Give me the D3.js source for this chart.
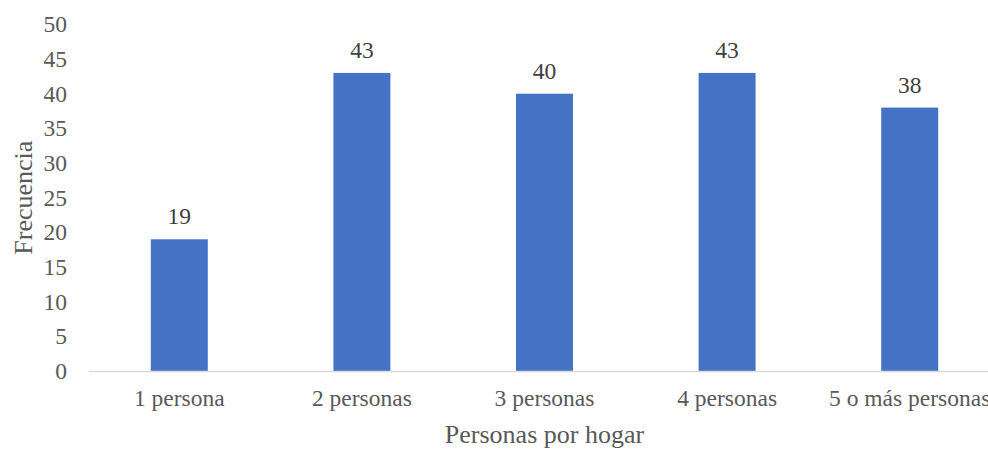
<!DOCTYPE html>
<html>
<head>
<meta charset="utf-8">
<script src="https://d3js.org/d3.v7.min.js"></script>
<style>
  body { margin: 0; background: #fff; }
  text { font-family: "Liberation Serif", "Times New Roman", serif; }
</style>
</head>
<body>
<script>
// chart data
var categories = ["1 persona", "2 personas", "3 personas", "4 personas", "5 o más personas"];
var values = [19, 43, 40, 43, 38];
var yTicks = [0, 5, 10, 15, 20, 25, 30, 35, 40, 45, 50];

// layout (plot area)
var w = 988, h = 449;
var plotLeft = 88, plotRight = 1001, plotTop = 24.4, plotBottom = 371;

var svg = d3.select("body").append("svg")
  .attr("width", w)
  .attr("height", h);

var x = d3.scaleBand()
  .domain(categories)
  .range([plotLeft, plotRight])
  .paddingInner(0.688)
  .paddingOuter(0.344);

var y = d3.scaleLinear()
  .domain([0, 50])
  .range([plotBottom, plotTop]);

// y tick labels, no axis line
var yAxis = svg.append("g")
  .attr("transform", "translate(67,0)")
  .call(d3.axisLeft(y).tickValues(yTicks).tickSize(0).tickPadding(0));
yAxis.select(".domain").remove();
yAxis.selectAll("text")
  .attr("fill", "#595959")
  .style("font-size", "23.5px")
  .style("font-family", "'Liberation Serif', serif");

// bars
svg.selectAll("rect.bar")
  .data(values)
  .enter()
  .append("rect")
  .attr("class", "bar")
  .attr("x", function(d, i) { return x(categories[i]); })
  .attr("y", function(d) { return y(d); })
  .attr("width", x.bandwidth())
  .attr("height", function(d) { return y(0) - y(d); })
  .attr("fill", "#4472C4");

// value labels above bars
svg.selectAll("text.val")
  .data(values)
  .enter()
  .append("text")
  .attr("class", "val")
  .attr("x", function(d, i) { return x(categories[i]) + x.bandwidth() / 2; })
  .attr("y", function(d) { return y(d) - 15; })
  .attr("text-anchor", "middle")
  .attr("fill", "#404040")
  .style("font-size", "23.5px")
  .text(function(d) { return d; });

// x axis
var xAxis = svg.append("g")
  .attr("transform", "translate(0," + plotBottom + ")")
  .call(d3.axisBottom(x).tickSize(0).tickPadding(0));
xAxis.select(".domain")
  .attr("stroke", "#d9d9d9")
  .attr("stroke-width", 1.5);
xAxis.selectAll("text")
  .attr("y", 35)
  .attr("dy", null)
  .attr("fill", "#595959")
  .style("font-size", "23.5px")
  .style("font-family", "'Liberation Serif', serif");

// axis titles
svg.append("text")
  .attr("x", (plotLeft + plotRight) / 2)
  .attr("y", 443)
  .attr("text-anchor", "middle")
  .attr("fill", "#595959")
  .style("font-size", "26px")
  .text("Personas por hogar");

svg.append("text")
  .attr("transform", "rotate(-90)")
  .attr("x", -(plotTop + plotBottom) / 2)
  .attr("y", 32)
  .attr("text-anchor", "middle")
  .attr("fill", "#595959")
  .style("font-size", "26px")
  .text("Frecuencia");
</script>
</body>
</html>
